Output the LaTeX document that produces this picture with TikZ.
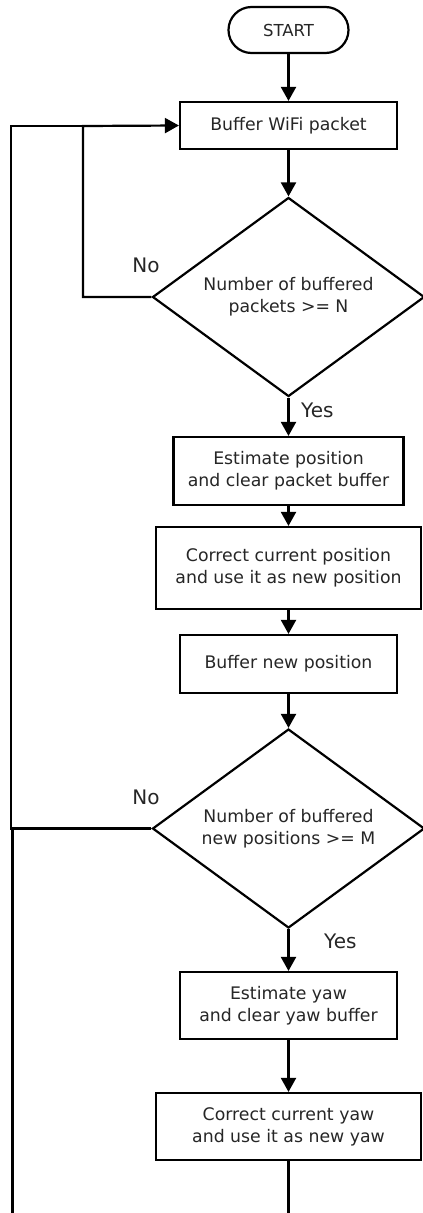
\documentclass[tikz,border=0pt]{standalone}
\usepackage{fontspec}
\setmainfont{DejaVu Sans}
\usetikzlibrary{shapes.geometric,arrows.meta}
\begin{document}
\begin{tikzpicture}[x=1pt,y=-1pt,
  every node/.style={text=black!85},
  boxtxt/.style={font=\fontsize{17.3}{22}\selectfont, align=center},
  procbox/.style={draw=black, line width=2.2pt, rectangle, inner sep=0pt, boxtxt},
  termbox/.style={draw=black, line width=2.2pt, rectangle, rounded corners=23pt, inner sep=0pt, boxtxt},
  decbox/.style={draw=black, line width=2.2pt, diamond, aspect=1.36, inner sep=0pt, minimum width=272pt, minimum height=199pt, boxtxt},
  lbl/.style={font=\fontsize{20}{22}\selectfont, inner sep=0pt},
  conn/.style={line width=2.2pt, draw=black},
  arr/.style={conn, -{Triangle[length=14pt,width=15pt]}}
]
\useasboundingbox (0,0) rectangle (423,1213);
\fill[white] (0,0) rectangle (423,1213);

\node[termbox, minimum width=120pt, minimum height=46pt, font=\fontsize{16.5}{22}\selectfont] (start) at (288.5,30) {START};
\node[procbox, minimum width=217pt, minimum height=47pt] (b1) at (288.5,125.5) {Buffer WiFi packet};
\node[decbox] (d1) at (288.5,297) {Number of buffered\\packets >= N};
\node[procbox, minimum width=230pt, minimum height=68pt] (b2) at (288.5,471) {Estimate position\\and clear packet buffer};
\node[procbox, minimum width=265pt, minimum height=82pt] (b3) at (288.5,568) {Correct current position\\and use it as new position};
\node[procbox, minimum width=217pt, minimum height=58pt] (b4) at (288.5,664) {Buffer new position};
\node[decbox] (d2) at (288.5,828.5) {Number of buffered\\new positions >= M};
\node[procbox, minimum width=217pt, minimum height=67pt] (b5) at (288.5,1005.5) {Estimate yaw\\and clear yaw buffer};
\node[procbox, minimum width=265pt, minimum height=67pt] (b6) at (288.5,1126.5) {Correct current yaw\\and use it as new yaw};

\node[lbl] (no1) at (146,265) {No};
\node[lbl] (no2) at (146,797) {No};
\node[lbl, anchor=west] (yes1) at (301,410) {Yes};
\node[lbl, anchor=west] (yes2) at (324,941) {Yes};

\coordinate (inner) at (83,126);
\coordinate (outer) at (11,126);
\coordinate (bl) at (12.5,1215);
\coordinate (bm) at (288.5,1215);

\draw[arr] (start) -- (b1);
\draw[arr] (b1) -- (d1);
\draw[arr] (d1) -- (b2);
\draw[arr] (b2) -- (b3);
\draw[arr] (b3) -- (b4);
\draw[arr] (b4) -- (d2);
\draw[arr] (d2) -- (b5);
\draw[arr] (b5) -- (b6);
\draw[conn] (b6) -- (bm);

\draw[arr] (d1.west) -| (inner) -- (b1.west);
\draw[conn] (d2.west) -| (outer) -- (inner);
\draw[conn] (bl) -- (bl |- d2.west) -- (d2.west);
\end{tikzpicture}
\end{document}
